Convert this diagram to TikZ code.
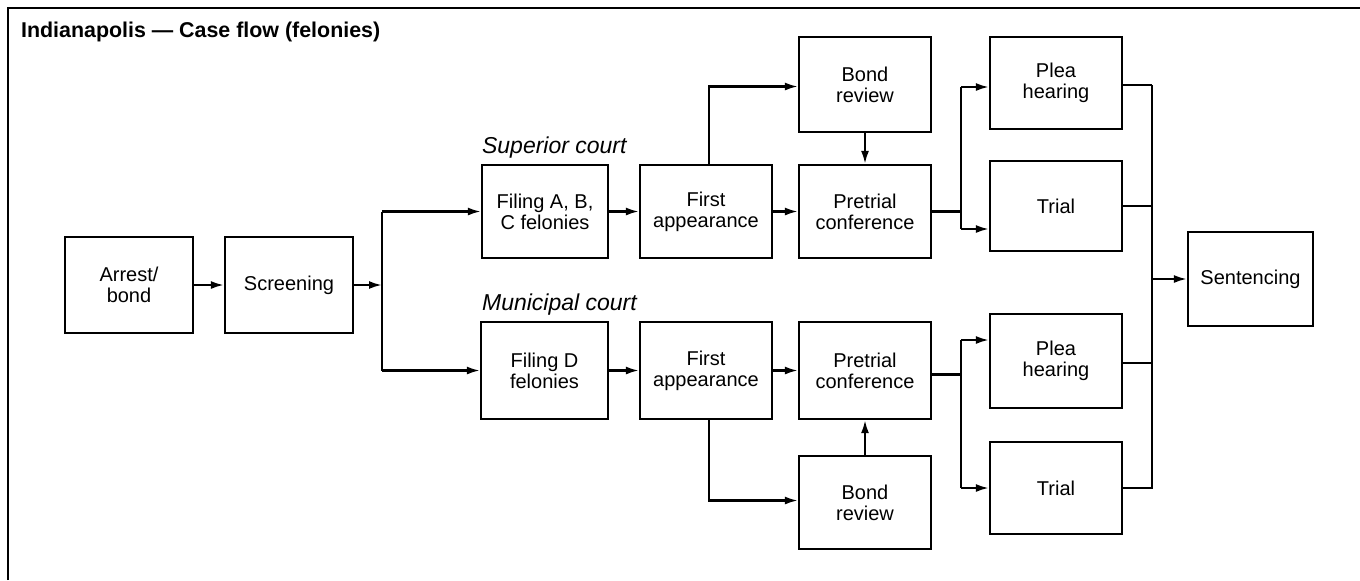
\documentclass[tikz,border=0pt]{standalone}
\usepackage{fontspec}
\setmainfont{Liberation Sans}
\usetikzlibrary{arrows.meta,calc}
\begin{document}
\begin{tikzpicture}[x=0.5pt,y=-0.5pt,
  line width=1.1pt,
  box/.style={draw,line width=1.1pt,minimum width=66pt,minimum height=47pt,inner sep=0pt,
    align=center,font=\fontsize{10}{10.5}\selectfont},
  flow/.style={-{Latex[length=6.5pt,width=4pt]}},
  court/.style={font=\fontsize{11.5}{12}\selectfont\itshape,anchor=base west,inner sep=0pt},
  ttl/.style={font=\fontsize{10.7}{12}\selectfont\bfseries,anchor=base west,inner sep=0pt}]
\useasboundingbox (0,0) rectangle (1360,580);
% frame
\draw[line width=1.3pt] (8,580) -- (8,8) -- (1360,8);
\node[ttl] (title) at (20,37) {Indianapolis — Case flow (felonies)};
% boxes
\node[box,minimum width=64pt,minimum height=48pt] (arrest) at (129,285) {Arrest/\\bond};
\node[box,minimum width=64pt,minimum height=48pt] (screen) at (289,285) {Screening};
\node[box,minimum width=63pt,minimum height=46.5pt] (filA) at (545,211.5) {Filing A, B,\\C felonies};
\node[box,minimum height=46.5pt] (fa1) at (706,211.5) {First\\appearance};
\node[box,minimum height=46.5pt] (pt1) at (865,211.5) {Pretrial\\conference};
\node[box,minimum height=47.5pt] (bond1) at (865,84.5) {Bond\\review};
\node[box,minimum height=46pt] (plea1) at (1056,83) {Plea\\hearing};
\node[box,minimum height=45pt] (trial1) at (1056,206) {Trial};
\node[box,minimum width=62.5pt,minimum height=47pt] (sent) at (1250.5,279) {Sentencing};
\node[box,minimum width=63.5pt,minimum height=48.5pt] (filD) at (544.5,370.5) {Filing D\\felonies};
\node[box,minimum height=48.5pt] (fa2) at (706,370.5) {First\\appearance};
\node[box,minimum height=48.5pt] (pt2) at (865,370.5) {Pretrial\\conference};
\node[box,minimum height=46.5pt] (bond2) at (865,502.5) {Bond\\review};
\node[box,minimum height=47pt] (plea2) at (1056,361) {Plea\\hearing};
\node[box,minimum height=46pt] (trial2) at (1056,488) {Trial};
% court labels
\node[court] (sup) at (481,153) {Superior court};
\node[court] (mun) at (481,310) {Municipal court};
% junction coordinates
\coordinate (j) at (382,285);
\coordinate (s1) at (961,207);
\coordinate (s2) at (961,366);
\coordinate (m) at (1152,280);
% arrest -> screening -> split
\draw[flow] (arrest) -- (screen);
\draw[flow] (screen.east) -- (j);
\draw (j |- filA.west) -- (j |- filD.west);
\draw[flow] (j |- filA.west) -- (filA.west);
\draw[flow] (j |- filD.west) -- (filD.west);
% superior row
\draw[flow] (filA) -- (fa1);
\draw[flow] (fa1) -- (pt1);
\draw[flow] ([xshift=1.5pt]fa1.north) |- ([yshift=-1pt]bond1.west);
\draw[flow] (bond1) -- (pt1);
\draw (pt1.east) -- (pt1.east -| s1);
\coordinate (s1t) at ($(s1 |- plea1.west)+(0,4)$);
\coordinate (s1b) at (961,229);
\draw (s1t) -- (s1b);
\draw[flow] (s1t) -- (s1t -| plea1.west);
\draw[flow] (s1b) -- (s1b -| trial1.west);
% municipal row
\draw[flow] (filD) -- (fa2);
\draw[flow] (fa2) -- (pt2);
\draw[flow] ([xshift=1.5pt]fa2.south) |- ([yshift=1pt]bond2.west);
\draw[flow] (bond2) -- (pt2);
\draw ([yshift=-2pt]pt2.east) -- ([yshift=-2pt]pt2.east -| s2);
\coordinate (s2t) at (961,340);
\coordinate (s2b) at (s2 |- trial2.west);
\draw (s2t) -- (s2b);
\draw[flow] (s2t) -- (s2t -| plea2.west);
\draw[flow] (s2b) -- (trial2.west);
% merge to sentencing
\coordinate (mt) at ($(m |- plea1.east)+(0,2)$);
\draw ($(plea1.east)+(0,2)$) -- (mt);
\draw (mt) -- (m |- trial2.east) -- (trial2.east);
\draw (trial1.east) -- (m |- trial1.east);
\draw ($(plea2.east)+(0,2)$) -- ($(m |- plea2.east)+(0,2)$);
\draw[flow] (m |- sent.west) -- (sent.west);
\end{tikzpicture}
\end{document}
